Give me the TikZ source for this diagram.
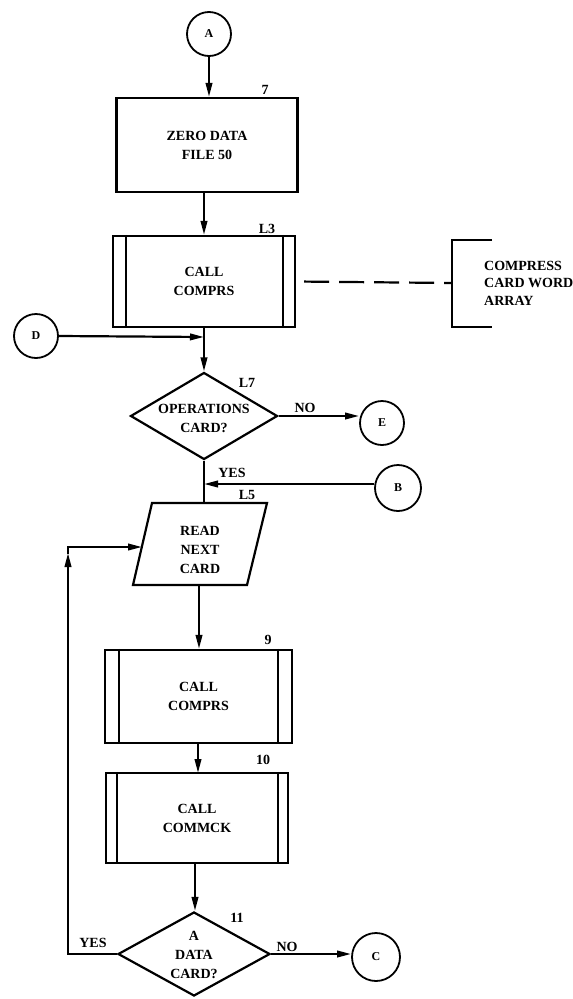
\documentclass[tikz,border=0pt]{standalone}
\usepackage{fontspec}
\setmainfont{Liberation Serif}
\usetikzlibrary{arrows.meta,shapes.geometric}
\begin{document}
\begin{tikzpicture}[x=1pt,y=-1pt,
  every node/.style={font=\fontsize{14}{19}\selectfont\bfseries},
  ln/.style={line width=2.2pt},
  arr/.style={ln,-{Triangle[length=14pt,width=6.5pt]}},
  conn/.style={circle,draw,line width=1.8pt,minimum size=44pt,inner sep=0pt,font=\fontsize{12}{14}\selectfont\bfseries},
  proc/.style={draw,ln,align=center,inner sep=0pt},
  dec/.style={diamond,draw,ln,inner sep=0pt},
  lbl/.style={inner sep=0pt},
  txt/.style={align=center,inner sep=0pt}
]
\useasboundingbox[fill=white] (0,0) rectangle (573,999);

% connectors (circles)
\node[conn] (A) at (209,34) {A};
\node[conn] (D) at (36,336) {D};
\node[conn] (E) at (382,423) {E};
\node[conn,minimum size=46pt] (B) at (398,488) {B};
\node[conn,minimum size=48pt] (C) at (376,957) {C};

% box 7
\node[proc,minimum width=181pt,minimum height=94pt] (b7) at (207,145) {ZERO DATA\\FILE 50};
\node[lbl] (l7n) at (265,90) {7};

% box L3 (predefined process)
\node[proc,minimum width=182pt,minimum height=91pt] (l3) at (204,281.5) {CALL\\COMPRS};
\draw[ln] ([xshift=14pt]l3.north west) -- ([xshift=14pt]l3.south west);
\draw[ln] ([xshift=-13pt]l3.north east) -- ([xshift=-13pt]l3.south east);
\node[lbl] (l3n) at (267,229) {L3};

% annotation
\node[anchor=west,align=left,inner sep=0pt,font=\fontsize{14}{17.5}\selectfont\bfseries] (note) at (484,283) {COMPRESS\\CARD WORD\\ARRAY};
\coordinate (brt) at (492,240);
\coordinate (brb) at (492,327);
\coordinate (brm) at (452,283);
\draw[ln] (brt) -- (452,240) -- (452,327) -- (brb);
\draw[ln,dash pattern=on 25pt off 10pt,shorten <=8pt] (l3.east) -- (brm);

% decision L7
\node[dec,minimum width=147pt,minimum height=87pt] (d7) at (204,416) {};
\node[txt] (d7t) at (204,418) {OPERATIONS\\CARD?};
\node[lbl] (l7) at (247,383) {L7};
\node[lbl] (no1) at (305,408) {NO};
\node[lbl] (yes1) at (232,473) {YES};

% read next card (parallelogram)
\coordinate (rtl) at (152,503);
\coordinate (rtr) at (267,503);
\coordinate (rbr) at (247,585);
\coordinate (rbl) at (133,585);
\draw[ln] (rtl) -- (rtr) -- (rbr) -- (rbl) -- cycle;
\node[txt] (rd) at (200,550) {READ\\NEXT\\CARD};
\coordinate (rdtop) at (204,503);
\coordinate (rdleft) at (142,547);
\coordinate (rdbot) at (199,585);
\node[lbl] (l5) at (247,495) {L5};

% box 9
\node[proc,minimum width=187pt,minimum height=93pt] (b9) at (198.5,696.5) {CALL\\COMPRS};
\draw[ln] ([xshift=15pt]b9.north west) -- ([xshift=15pt]b9.south west);
\draw[ln] ([xshift=-15pt]b9.north east) -- ([xshift=-15pt]b9.south east);
\node[lbl] (n9) at (268,640) {9};

% box 10
\node[proc,minimum width=182pt,minimum height=90pt] (b10) at (197,818) {CALL\\COMMCK};
\draw[ln] ([xshift=12pt]b10.north west) -- ([xshift=12pt]b10.south west);
\draw[ln] ([xshift=-11pt]b10.north east) -- ([xshift=-11pt]b10.south east);
\node[lbl] (n10) at (263,760) {10};

% decision 11
\node[dec,minimum width=152pt,minimum height=84pt] (d11) at (194,954) {};
\node[txt] (d11t) at (194,955) {A\\DATA\\CARD?};
\node[lbl] (n11) at (237,918) {11};
\node[lbl] (yes2) at (93,943) {YES};
\node[lbl] (no2) at (287,947) {NO};

% flow
\draw[arr] (A) -- (A.south |- b7.north);
\draw[arr] (b7.south -| l3.north) -- (l3.north);
\coordinate (j1) at (204,337);
\draw[arr] (D.east) -- (j1);
\draw[arr] (l3.south) -- (d7.north);
\draw[arr] (d7.east) -- (E.west |- d7.east);
\coordinate (j2) at (204,484);
\draw[arr] (B.west |- j2) -- (j2);
\draw[ln] (d7.south) -- (rdtop);
\draw[arr] (rdbot) -- (rdbot |- b9.north);
\draw[arr] (b9.south -| 198,0) -- (198,773);
\draw[arr] (b10.south -| 195,0) -- (d11.north -| 195,0);
\draw[arr] (d11.east) -- (C.west |- d11.east);
% loop back
\coordinate (lp1) at (68,954);
\coordinate (lp2) at (68,553);
\coordinate (lp3) at (68,547);
\draw[ln] (d11.west) -- (lp1) -- (68,600);
\draw[arr] (68,600) -- (lp2);
\draw[ln,line cap=rect] (lp2) -- (lp3);
\draw[arr] (lp3) -- (rdleft);
\end{tikzpicture}
\end{document}
